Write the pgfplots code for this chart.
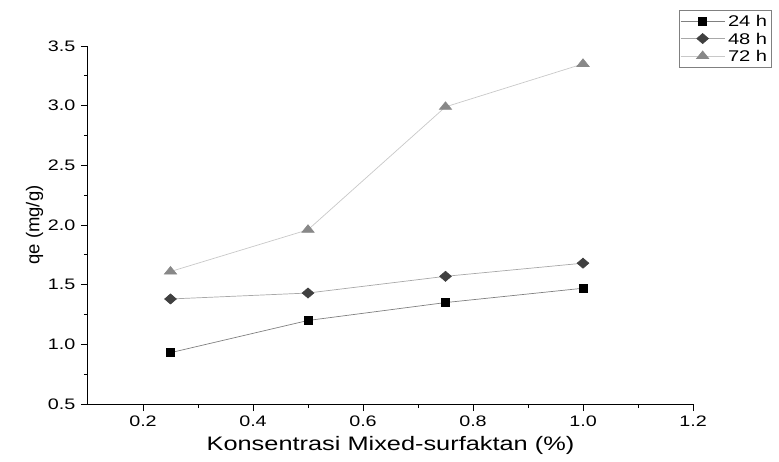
\documentclass[border=0pt]{standalone}
\usepackage{fontspec}
\setmainfont{Liberation Sans}
\newfontfamily\widefont[FakeStretch=1.3]{Liberation Sans}
\usepackage{pgfplots}
\pgfplotsset{compat=1.18}
\definecolor{ln24}{HTML}{808080}
\definecolor{ln48}{HTML}{A8A8A8}
\definecolor{ln72}{HTML}{C8C8C8}
\definecolor{mk48}{HTML}{404040}
\definecolor{mk72}{HTML}{888888}
\begin{document}
\begin{tikzpicture}
\begin{axis}[
  scale only axis,
  width=605pt, height=358pt,
  xmin=0.1, xmax=1.2, ymin=0.5, ymax=3.5,
  axis lines*=left,
  axis line style={line width=1pt, black},
  xtick={0.2,0.4,...,1.21},
  minor xtick={0.3,0.5,0.7,0.9,1.1},
  ytick={0.5,1.0,...,3.51},
  minor ytick={0.75,1.25,...,3.26},
  tick align=outside,
  major tick length=7pt, minor tick length=4pt,
  every tick/.style={black, line width=0.9pt},
  /pgf/number format/assume math mode=true,
  /pgf/number format/.cd, fixed, fixed zerofill, precision=1, /pgfplots/.cd,
  tick label style={font=\widefont\fontsize{15.2}{17}\selectfont},
  xticklabel style={yshift=-1pt},
  yticklabel style={xshift=-2pt},
  xlabel={Konsentrasi Mixed-surfaktan (\%)},
  ylabel={qe (mg/g)},
  xlabel style={font=\widefont\fontsize{19.5}{22}\selectfont, yshift=-3pt},
  ylabel style={font=\fontsize{18.5}{21}\selectfont, yshift=-2pt},
  clip=false,
  legend style={at={(1,1)}, anchor=north west, xshift=-14pt, yshift=36pt,
    font=\widefont\fontsize{15.5}{17}\selectfont, draw=ln24, line width=0.6pt,
    row sep=-2pt, inner sep=1pt,
    nodes={inner ysep=1pt, inner xsep=3pt, text height=11.5pt, text depth=0pt, minimum height=19.5pt}},
  legend cell align=left,
  legend image code/.code={
    \draw[mark repeat=2, mark phase=2] plot coordinates {(0pt,0pt) (22pt,0pt) (44pt,0pt)};
  },
]
\addplot[ln24, line width=0.7pt, mark=square*, mark size=4pt, mark options={black, fill=black, solid}]
  coordinates {(0.25,0.93) (0.5,1.20) (0.75,1.35) (1.0,1.47)};
\addlegendentry{24 h}
\addplot[ln48, line width=0.7pt, mark=diamond*, mark size=5pt, mark options={mk48, fill=mk48, solid, xscale=1.55}]
  coordinates {(0.25,1.38) (0.5,1.43) (0.75,1.57) (1.0,1.68)};
\addlegendentry{48 h}
\addplot[ln72, line width=0.7pt, mark=triangle*, mark size=5pt, mark options={mk72, fill=mk72, solid, xscale=1.4}]
  coordinates {(0.25,1.61) (0.5,1.96) (0.75,2.99) (1.0,3.35)};
\addlegendentry{72 h}
\end{axis}
\path[use as bounding box] ([xshift=-88pt,yshift=-57pt]current axis.south west) rectangle ([xshift=86pt,yshift=46pt]current axis.north east);
\end{tikzpicture}
\end{document}
